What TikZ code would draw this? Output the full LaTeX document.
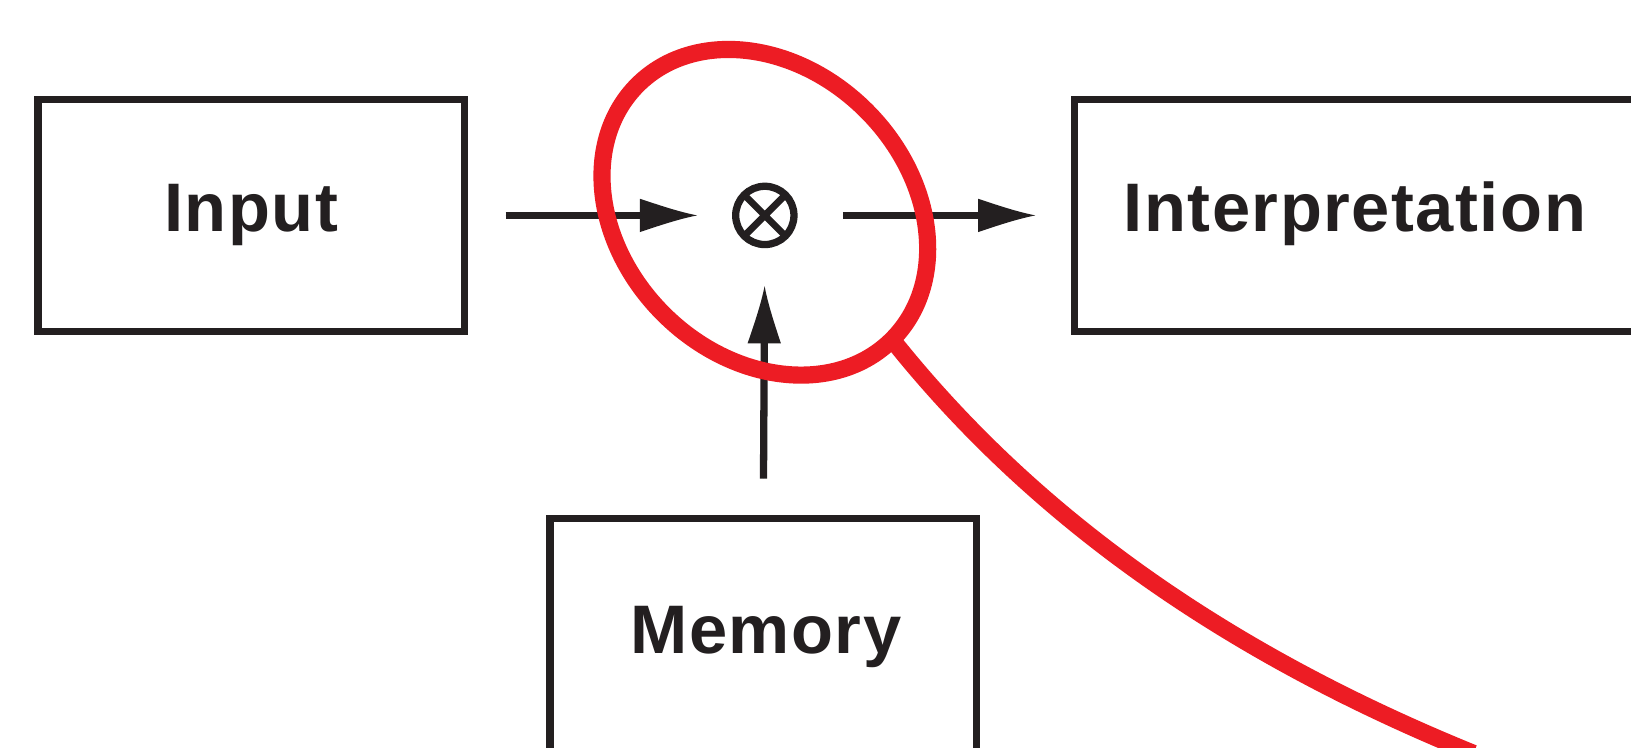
\documentclass[tikz,border=0pt]{standalone}
\usepackage{fontspec}
\setmainfont{Liberation Sans}
\usetikzlibrary{arrows.meta,shapes.geometric}
\definecolor{ink}{HTML}{231F20}
\definecolor{lensred}{HTML}{ED1C24}
\pgfdeclarearrow{
  name = Concave,
  setup code = {
    \pgfarrowssettipend{0pt}
    \pgfarrowssetbackend{-55pt}
    \pgfarrowssetlineend{-50pt}
    \pgfarrowssetvisualbackend{-55pt}
    \pgfarrowshullpoint{0pt}{0pt}
    \pgfarrowshullpoint{-55pt}{16pt}
    \pgfarrowshullpoint{-55pt}{-16pt}
  },
  drawing code = {
    \pgfpathmoveto{\pgfpoint{0pt}{0pt}}
    \pgfpathcurveto{\pgfpoint{-18pt}{3.5pt}}{\pgfpoint{-37pt}{10pt}}{\pgfpoint{-55pt}{16pt}}
    \pgfpathlineto{\pgfpoint{-55pt}{-16pt}}
    \pgfpathcurveto{\pgfpoint{-37pt}{-10pt}}{\pgfpoint{-18pt}{-3.5pt}}{\pgfpoint{0pt}{0pt}}
    \pgfpathclose
    \pgfusepathqfill
  }
}
\begin{document}
\begin{tikzpicture}[x=1pt,y=-1pt,
  box/.style={draw=ink, line width=7.2pt, rectangle, inner sep=0pt, outer sep=0pt,
    font=\bfseries\fontsize{66}{79}\selectfont\addfontfeatures{LetterSpace=2.2}, text=ink},
  boxtext/.style={font=\bfseries\fontsize{66}{79}\selectfont\addfontfeatures{LetterSpace=2.2}, text=ink, inner sep=0pt, anchor=base},
  arr/.style={draw=ink, fill=ink, line width=7pt, -{Concave}},
  lensline/.style={draw=lensred, line width=16.5pt}]
\useasboundingbox (0,0) rectangle (1567.4,717.9);
\clip (0,0) rectangle (1567.4,717.9);
\fill[white] (0,0) rectangle (1567.4,717.9);
% boxes
\node[box, minimum width=410pt, minimum height=223pt] (input) at (241.5,207) {Input};
\node[box, minimum width=700pt, minimum height=223pt, anchor=west] (interp) at (1032.5,207) {};
\node[boxtext] (interptext) at (1302,222) {Interpretation};
\node[box, minimum width=410pt, minimum height=330pt, anchor=north] (memory) at (733.5,498.5) {};
\node[boxtext] (memorytext) at (736,628) {Memory};
% multiplier
\node[draw=ink, circle, line width=7pt, minimum size=56pt, inner sep=0pt, outer sep=0pt] (mult) at (735,207) {};
\draw[ink, line width=6.5pt] (mult.north west) -- (mult.south east)
  (mult.north east) -- (mult.south west);
% connectors
\draw[arr, shorten <=39.5pt, shorten >=37pt] (input.east) -- (mult.west);
\draw[arr, shorten <=47pt, shorten >=37.5pt] (mult.east) -- (interp.west);
\draw[arr, shorten <=38.5pt, shorten >=40pt] (memory.north) -- (mult.south);
% lens
\node[lensline, ellipse, rotate=-45, minimum width=346pt, minimum height=276pt,
  inner sep=0pt, outer sep=0pt] (lens) at (735,204) {};
\coordinate (tail) at (1416,724);
\draw[lensline] (lens.east) .. controls (991.7,495) and (1175,626) .. (tail);
\end{tikzpicture}
\end{document}
